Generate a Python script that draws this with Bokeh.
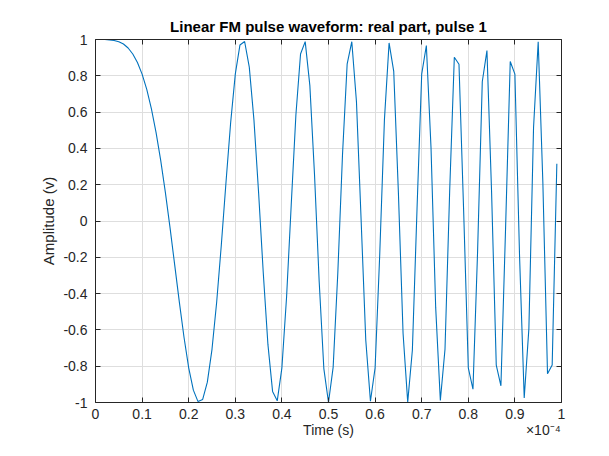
from bokeh.plotting import figure
from bokeh.models import (Range1d, LinearAxis, FixedTicker, CustomJSTickFormatter)
from bokeh.embed import file_html
from bokeh.resources import INLINE

# sample instants (s), fs = 1 MHz, 100 samples
time_s = [n * 1e-6 for n in range(100)]
# real part of pulse 1
amplitude = [
    1.000, 1.000, 1.000, 0.998, 0.995, 0.988, 0.975, 0.953, 0.920, 0.873,
    0.809, 0.725, 0.618, 0.487, 0.333, 0.156, -0.038, -0.243, -0.448, -0.642,
    -0.809, -0.932, -0.995, -0.983, -0.888, -0.707, -0.448, -0.132, 0.212, 0.541,
    0.809, 0.970, 0.989, 0.848, 0.557, 0.156, -0.285, -0.680, -0.939, -0.991,
    -0.809, -0.420, 0.088, 0.583, 0.920, 0.988, 0.746, 0.255, -0.333, -0.813,
    -1.000, -0.805, -0.285, 0.362, 0.864, 0.988, 0.657, 0.006, -0.657, -0.993,
    -0.809, -0.181, 0.557, 0.981, 0.824, 0.156, -0.618, -0.998, -0.711, 0.069,
    0.809, 0.967, 0.403, -0.476, -0.989, -0.707, 0.163, 0.902, 0.864, 0.057,
    -0.809, -0.927, -0.163, 0.767, 0.939, 0.156, -0.794, -0.908, -0.038, 0.879,
    0.809, -0.194, -0.975, -0.593, 0.514, 0.988, 0.212, -0.841, -0.794, 0.315,
]
x_ticks = [i * 1e-5 for i in range(11)]
y_ticks = [-1.0, -0.8, -0.6, -0.4, -0.2, 0.0, 0.2, 0.4, 0.6, 0.8, 1.0]
title_text = "Linear FM pulse waveform: real part, pulse 1"
x_label = "Time (s)"
y_label = "Amplitude (v)"
x_exponent = "×10⁻⁴"

FONT = "Liberation Sans"
AX = "#262626"

p = figure(width=593, height=440, output_backend="svg", toolbar_location=None,
           x_range=Range1d(0, 1e-4), y_range=Range1d(-1, 1),
           min_border_left=95, min_border_right=32, min_border_top=39,
           min_border_bottom=38, title=title_text)
p.background_fill_color = "white"
p.border_fill_color = "white"
p.outline_line_color = None

p.title.align = "center"
p.title.text_font = FONT
p.title.text_font_size = "15px"
p.title.text_font_style = "bold"
p.title.text_color = "#000000"
p.title.standoff = 10

p.line(time_s, amplitude, line_color="#0072BD", line_width=1.1)

xfmt = CustomJSTickFormatter(code="return String(Number((tick*1e4).toFixed(1)));")
yfmt = CustomJSTickFormatter(code="return String(Number(tick.toFixed(1)));")
blank = CustomJSTickFormatter(code="return '';")

def style_axis(ax, ticks, fmt):
    ax.ticker = FixedTicker(ticks=ticks)
    ax.formatter = fmt
    ax.axis_line_color = AX
    ax.axis_line_width = 1
    ax.major_tick_line_color = AX
    ax.major_tick_in = 5
    ax.major_tick_out = 0
    ax.minor_tick_line_color = None
    ax.major_label_text_font = FONT
    ax.major_label_text_color = AX
    ax.major_label_text_font_size = "14px"
    ax.axis_label_text_font = FONT
    ax.axis_label_text_color = AX
    ax.axis_label_text_font_style = "normal"
    ax.axis_label_text_font_size = "15px"

xa = p.xaxis[0]
ya = p.yaxis[0]
style_axis(xa, x_ticks, xfmt)
style_axis(ya, y_ticks, yfmt)
ya.axis_label = y_label
xa.major_label_standoff = 6
ya.major_label_standoff = 8
ya.axis_label_standoff = 3

top = LinearAxis()
right = LinearAxis()
style_axis(top, x_ticks, blank)
style_axis(right, y_ticks, blank)
top.major_label_standoff = 0
right.major_label_standoff = 0
p.add_layout(top, "above")
p.add_layout(right, "right")

# second row under the x axis: the axis title and the exponent marker side by side
label_pos = [0.5e-4, 0.961e-4]
lab_axis = LinearAxis(
    ticker=FixedTicker(ticks=label_pos),
    formatter=CustomJSTickFormatter(
        args=dict(lbl=x_label, expo=x_exponent),
        code="return tick < 0.8e-4 ? lbl : expo;"),
    axis_line_color=None, major_tick_line_color=None, minor_tick_line_color=None,
    major_tick_in=0, major_tick_out=0, major_label_standoff=0,
    major_label_text_font=FONT, major_label_text_font_size="14px",
    major_label_text_color=AX)
p.add_layout(lab_axis, "below")

p.xgrid.ticker = FixedTicker(ticks=x_ticks)
p.ygrid.ticker = FixedTicker(ticks=y_ticks)
for g in (p.xgrid[0], p.ygrid[0]):
    g.grid_line_color = "#dedede"
    g.grid_line_width = 1

open("out.html", "w").write(file_html(p, INLINE))
